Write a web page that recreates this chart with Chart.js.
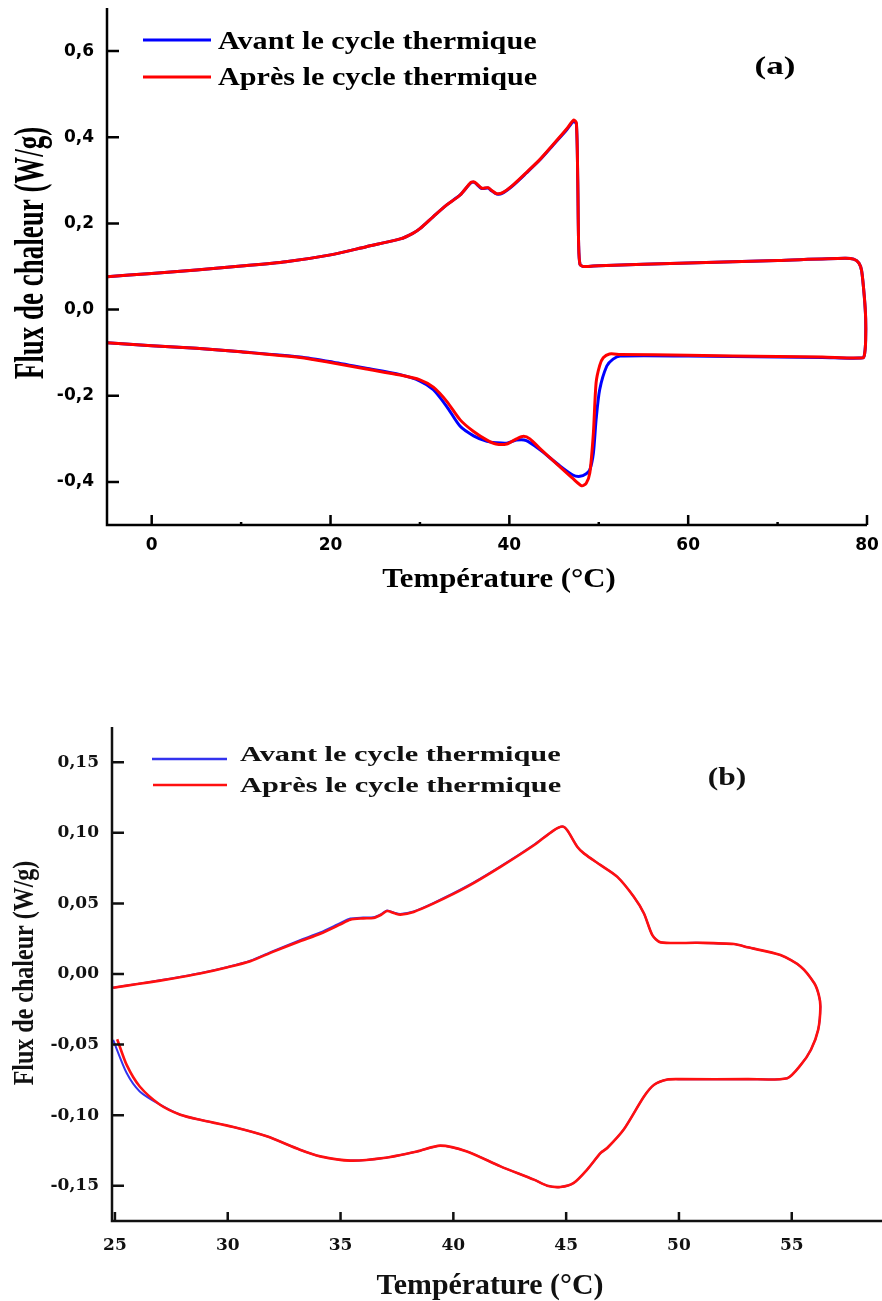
<!DOCTYPE html>
<html>
<head>
<meta charset="utf-8">
<script src="https://cdn.jsdelivr.net/npm/chart.js@4.4.1/dist/chart.umd.min.js"></script>
<style>
  html, body { margin: 0; padding: 0; background: #fff; }
  #page { position: relative; width: 882px; height: 1301px; overflow: hidden; }
  .panel { position: absolute; left: 0; width: 882px; }
  #pa { top: 0; height: 650px; }
  #pb { top: 650px; height: 651px; }
</style>
</head>
<body>
<div id="page">
  <div class="panel" id="pa"><canvas id="ca"></canvas></div>
  <div class="panel" id="pb"><canvas id="cb"></canvas></div>
</div>
<script>
// ---------- Panel (a): DSC loop, -5 to 80 °C ----------
const aTempAvant = [
  -5, 0, 5, 10, 15, 20, 24, 27.8, 29.2, 30,
  31.5, 33, 34.5, 35.7, 36.1, 36.9, 37.6, 38.0, 38.6, 39.3,
  40.4, 41.9, 43.4, 44.9, 46.4, 47.2, 47.5, 47.65, 47.75, 47.9,
  48.3, 50, 60, 70, 77.5, 78.5, 79.1, 79.4, 79.7, 79.85,
  79.85, 79.75, 79.55,
  75, 70, 60, 52.4, 51.6, 50.9, 50.1, 49.7, 49.4, 49.0,
  48.6, 47.9, 47.1, 45.6, 43.4, 41.9, 40.8, 39.7, 38.5, 37.5,
  36.0, 34.5, 33.0, 31.5, 30.0, 27.8, 24.0, 20.3, 16.6, 10,
  5, 0, -5
];
const aFluxAvant = [
  0.076, 0.084, 0.092, 0.101, 0.111, 0.127, 0.146, 0.164, 0.177, 0.188,
  0.216, 0.243, 0.266, 0.294, 0.295, 0.281, 0.282, 0.276, 0.268, 0.271,
  0.288, 0.317, 0.347, 0.382, 0.417, 0.437, 0.430, 0.300, 0.150, 0.105,
  0.100, 0.102, 0.108, 0.114, 0.119, 0.117, 0.108, 0.090, 0.030, -0.020,
  -0.070, -0.100, -0.112,
  -0.111, -0.110, -0.108, -0.108, -0.115, -0.131, -0.186, -0.256, -0.333, -0.372,
  -0.381, -0.387, -0.384, -0.362, -0.325, -0.304, -0.303, -0.310, -0.309, -0.306,
  -0.293, -0.271, -0.225, -0.186, -0.166, -0.151, -0.136, -0.122, -0.110, -0.098,
  -0.090, -0.084, -0.077
];
const aTempApres = [
  -5, 0, 5, 10, 15, 20, 24, 27.8, 29.2, 30,
  31.5, 33, 34.5, 35.7, 36.1, 36.9, 37.6, 38.0, 38.6, 39.3,
  40.4, 41.9, 43.4, 44.9, 46.4, 47.2, 47.5, 47.65, 47.75, 47.9,
  48.3, 50, 60, 70, 77.5, 78.5, 79.1, 79.4, 79.7, 79.85,
  79.85, 79.75, 79.55,
  75, 70, 60, 52.4, 51.2, 50.5, 50.1, 49.7, 49.4, 49.0,
  48.6, 48.1, 47.1, 45.6, 43.4, 42.3, 41.6, 40.8, 39.7, 38.5,
  37.5, 36.0, 34.5, 33.0, 31.5, 30.0, 27.8, 24.0, 20.3, 16.6,
  10, 5, 0, -5
];
const aFluxApres = [
  0.076, 0.084, 0.092, 0.101, 0.111, 0.127, 0.146, 0.164, 0.177, 0.188,
  0.216, 0.243, 0.266, 0.295, 0.296, 0.282, 0.283, 0.277, 0.269, 0.272,
  0.289, 0.318, 0.348, 0.383, 0.419, 0.440, 0.433, 0.300, 0.150, 0.105,
  0.100, 0.102, 0.108, 0.114, 0.119, 0.117, 0.108, 0.090, 0.030, -0.020,
  -0.070, -0.100, -0.112,
  -0.110, -0.109, -0.106, -0.104, -0.103, -0.112, -0.130, -0.170, -0.286, -0.379,
  -0.403, -0.409, -0.392, -0.364, -0.322, -0.300, -0.294, -0.300, -0.312, -0.312,
  -0.303, -0.283, -0.256, -0.213, -0.180, -0.163, -0.152, -0.138, -0.124, -0.111,
  -0.098, -0.090, -0.084, -0.077
];
const aTicksX = [0, 20, 40, 60, 80];
const aMinorX = [10, 30, 50, 70];
const aTicksY = [-0.4, -0.2, 0, 0.2, 0.4, 0.6];

// ---------- Panel (b): DSC loop, 25 to 56 °C ----------
const bTempAvant = [
  24.92, 26, 27, 28, 28.77, 30, 31, 32, 33.2, 34.1,
  35.0, 35.43, 36.0, 36.46, 36.8, 37.06, 37.4, 37.65, 38.24, 39.13,
  40.6, 42.09, 43.57, 44.45, 44.83, 45.05, 45.5, 45.8, 46.53, 47.27,
  48.0, 48.45, 48.82, 49.19, 50.82, 52.44, 53.04, 54.5, 55.4, 56.0,
  56.2, 56.27,
  56.17, 55.85, 55.4, 54.8, 53.04, 50.08, 49.49, 48.9, 48.45, 47.56,
  46.82, 46.53, 45.93, 45.34, 44.75, 44.16, 43.57, 42.09, 40.6, 39.42,
  38.39, 36.9, 35.43, 34.1, 33.2, 31.73, 30.25, 28.77, 27.9, 27.0,
  26.1, 25.52, 24.92
];
const bFluxAvant = [
  -0.0097, -0.0070, -0.0045, -0.0018, 0.0005, 0.0050, 0.0094, 0.0162, 0.0240, 0.0295,
  0.0362, 0.0393, 0.0400, 0.0402, 0.0424, 0.0450, 0.0433, 0.0425, 0.0443, 0.0504,
  0.0622, 0.0763, 0.0916, 0.1018, 0.1045, 0.1018, 0.0900, 0.0853, 0.0771, 0.0688,
  0.0547, 0.0429, 0.0276, 0.0224, 0.0221, 0.0212, 0.0189, 0.0134, 0.0052, -0.0066,
  -0.0150, -0.0231,
  -0.0396, -0.0537, -0.0644, -0.0738, -0.0745, -0.0745, -0.0748, -0.0785, -0.0868, -0.1100,
  -0.1233, -0.1268, -0.1386, -0.1480, -0.1509, -0.1500, -0.1457, -0.1363, -0.1257, -0.1216,
  -0.1257, -0.1304, -0.1322, -0.1292, -0.1245, -0.1150, -0.1084, -0.1033, -0.0997, -0.0926,
  -0.0832, -0.0702, -0.0467
];
const bTempApres = [
  24.92, 26, 27, 28, 28.77, 30, 31, 32, 33.2, 34.1,
  35.0, 35.43, 36.0, 36.46, 36.8, 37.06, 37.4, 37.65, 38.24, 39.13,
  40.6, 42.09, 43.57, 44.45, 44.83, 45.05, 45.5, 45.8, 46.53, 47.27,
  48.0, 48.45, 48.82, 49.19, 50.82, 52.44, 53.04, 54.5, 55.4, 56.0,
  56.2, 56.27,
  56.17, 55.85, 55.4, 54.8, 53.04, 50.08, 49.49, 48.9, 48.45, 47.56,
  46.82, 46.53, 45.93, 45.34, 44.75, 44.16, 43.57, 42.09, 40.6, 39.42,
  38.39, 36.9, 35.43, 34.1, 33.2, 31.73, 30.25, 28.77, 27.9, 27.0,
  26.1, 25.52, 25.1
];
const bFluxApres = [
  -0.0097, -0.0071, -0.0047, -0.0020, 0.0003, 0.0048, 0.0091, 0.0157, 0.0232, 0.0285,
  0.0352, 0.0385, 0.0394, 0.0397, 0.0420, 0.0446, 0.0430, 0.0421, 0.0440, 0.0500,
  0.0617, 0.0759, 0.0912, 0.1018, 0.1045, 0.1018, 0.0900, 0.0853, 0.0771, 0.0688,
  0.0547, 0.0429, 0.0276, 0.0224, 0.0221, 0.0212, 0.0189, 0.0134, 0.0052, -0.0066,
  -0.0150, -0.0231,
  -0.0396, -0.0537, -0.0644, -0.0738, -0.0745, -0.0745, -0.0748, -0.0785, -0.0868, -0.1100,
  -0.1233, -0.1268, -0.1386, -0.1480, -0.1509, -0.1500, -0.1457, -0.1363, -0.1257, -0.1216,
  -0.1257, -0.1304, -0.1322, -0.1292, -0.1245, -0.1150, -0.1084, -0.1033, -0.0997, -0.0926,
  -0.0797, -0.0644, -0.0462
];
const bTicksX = [25, 30, 35, 40, 45, 50, 55];
const bTicksY = [-0.15, -0.10, -0.05, 0, 0.05, 0.10, 0.15];

const seriesLabels = ['Avant le cycle thermique', 'Après le cycle thermique'];
const xTitle = 'Température (°C)';
const yTitle = 'Flux de chaleur (W/g)';

const toPoints = (xs, ys) => xs.map((x, i) => ({ x, y: ys[i] }));

// Draws a text string with an optional horizontal stretch and rotation.
function drawText(ctx, t) {
  ctx.save();
  ctx.translate(t.x, t.y);
  ctx.scale(t.sx || 1, 1);
  if (t.rot) ctx.rotate(-Math.PI / 2);
  ctx.font = t.font;
  ctx.fillStyle = t.color || '#000';
  ctx.textAlign = t.align || 'left';
  ctx.textBaseline = 'alphabetic';
  ctx.fillText(t.text, 0, 0);
  ctx.restore();
}

// Axis lines, inward tick marks, the in-plot legend and free text.
const decor = {
  id: 'decor',
  afterDatasetsDraw(chart, args, o) {
    const { ctx, chartArea: a, scales } = chart;
    const xs = scales.x, ys = scales.y;
    ctx.save();
    ctx.strokeStyle = o.axisColor;
    ctx.lineWidth = o.axisWidth;
    ctx.lineCap = 'butt';
    ctx.beginPath();
    ctx.moveTo(a.left, a.top);
    ctx.lineTo(a.left, a.bottom + o.axisWidth / 2);
    ctx.moveTo(a.left - o.axisWidth / 2, a.bottom);
    ctx.lineTo(a.right, a.bottom);
    ctx.stroke();

    ctx.beginPath();
    xs.ticks.forEach(t => {
      const px = xs.getPixelForValue(t.value);
      ctx.moveTo(px, a.bottom);
      ctx.lineTo(px, a.bottom - o.xTickLen);
    });
    ys.ticks.forEach(t => {
      const py = ys.getPixelForValue(t.value);
      ctx.moveTo(a.left, py);
      ctx.lineTo(a.left + o.yTickLen, py);
    });
    (o.minorX || []).forEach(v => {
      const px = xs.getPixelForValue(v);
      ctx.moveTo(px, a.bottom);
      ctx.lineTo(px, a.bottom - o.minorLen);
    });
    ctx.stroke();

    const lg = o.legend;
    chart.data.datasets.forEach((ds, i) => {
      const r = lg.rows[i];
      ctx.strokeStyle = ds.borderColor;
      ctx.lineWidth = lg.lineWidth;
      ctx.beginPath();
      ctx.moveTo(r.x0, r.ly);
      ctx.lineTo(r.x1, r.ly);
      ctx.stroke();
      drawText(ctx, { text: ds.label, x: lg.textX, y: r.ty, font: lg.font, sx: lg.sx, color: lg.color });
    });

    o.texts.forEach(t => drawText(ctx, t));
    ctx.restore();
  }
};

function makeChart(id, cfg) {
  return new Chart(document.getElementById(id), {
    type: 'scatter',
    data: {
      datasets: cfg.series.map(s => ({
        label: s.label,
        data: toPoints(s.xs, s.ys),
        borderColor: s.color,
        backgroundColor: s.color,
        borderWidth: s.width,
        pointRadius: 0,
        pointHoverRadius: 0,
        showLine: true,
        tension: 0.25,
        fill: false,
        order: s.order,
        clip: false
      }))
    },
    options: {
      responsive: true,
      maintainAspectRatio: false,
      animation: false,
      events: [],
      layout: { padding: cfg.padding },
      plugins: {
        legend: { display: false },
        tooltip: { enabled: false },
        decor: cfg.decor
      },
      scales: {
        x: {
          type: 'linear',
          min: cfg.xMin, max: cfg.xMax,
          afterBuildTicks: s => { s.ticks = cfg.xTicks.map(v => ({ value: v })); },
          afterFit: s => { s.height = cfg.xHeight; s.paddingLeft = 0; s.paddingRight = 0; },
          grid: { display: false, drawTicks: false },
          border: { display: false },
          ticks: {
            autoSkip: false, maxRotation: 0, minRotation: 0,
            padding: cfg.xPad,
            color: cfg.tickColor,
            font: cfg.tickFont,
            callback: v => String(v)
          }
        },
        y: {
          type: 'linear',
          min: cfg.yMin, max: cfg.yMax,
          afterBuildTicks: s => { s.ticks = cfg.yTicks.map(v => ({ value: v })); },
          afterFit: s => { s.width = cfg.yWidth; s.paddingTop = 0; s.paddingBottom = 0; },
          grid: { display: false, drawTicks: false },
          border: { display: false },
          ticks: {
            autoSkip: false,
            padding: cfg.yPad,
            color: cfg.tickColor,
            font: cfg.tickFont,
            callback: v => v.toFixed(cfg.yDec).replace('.', ',')
          }
        }
      }
    },
    plugins: [decor]
  });
}

const serifBold = px => 'bold ' + px + 'px "Liberation Serif", "Times New Roman", serif';

makeChart('ca', {
  series: [
    { label: seriesLabels[0], xs: aTempAvant, ys: aFluxAvant, color: '#0000ff', width: 3, order: 2 },
    { label: seriesLabels[1], xs: aTempApres, ys: aFluxApres, color: '#ff0000', width: 3, order: 1 }
  ],
  xMin: -5, xMax: 80, yMin: -0.5, yMax: 0.7,
  xTicks: aTicksX, yTicks: aTicksY, yDec: 1,
  padding: { left: 0, right: 15, top: 8, bottom: 0 },
  xHeight: 125, yWidth: 107, xPad: 10, yPad: 13,
  tickColor: '#000',
  tickFont: { family: '"DejaVu Sans", Verdana, sans-serif', size: 17, weight: 'bold' },
  decor: {
    axisColor: '#000', axisWidth: 2.5, xTickLen: 10, yTickLen: 12, minorLen: 3, minorX: aMinorX,
    legend: {
      font: serifBold(26), sx: 1.16, textX: 218, lineWidth: 3, color: '#000',
      rows: [ { x0: 143, x1: 211, ly: 40, ty: 49 }, { x0: 143, x1: 211, ly: 77, ty: 85 } ]
    },
    texts: [
      { text: '(a)', x: 775, y: 74, font: serifBold(26), sx: 1.35, align: 'center' },
      { text: xTitle, x: 499, y: 587, font: serifBold(27), sx: 1.14, align: 'center' },
      { text: yTitle, x: 43, y: 253, font: serifBold(27), sx: 1.6, align: 'center', rot: true }
    ]
  }
});

makeChart('cb', {
  series: [
    { label: seriesLabels[0], xs: bTempAvant, ys: bFluxAvant, color: '#3333ee', width: 2, order: 2 },
    { label: seriesLabels[1], xs: bTempApres, ys: bFluxApres, color: '#ff1010', width: 2.6, order: 1 }
  ],
  xMin: 24.87, xMax: 59, yMin: -0.175, yMax: 0.175,
  xTicks: bTicksX, yTicks: bTicksY, yDec: 2,
  padding: { left: 0, right: 0, top: 77, bottom: 0 },
  xHeight: 80, yWidth: 112, xPad: 14, yPad: 13,
  tickColor: '#111',
  tickFont: { family: '"DejaVu Serif", serif', size: 17, weight: 'bold' },
  decor: {
    axisColor: '#111', axisWidth: 2.5, xTickLen: 9, yTickLen: 12, minorLen: 0, minorX: [],
    legend: {
      font: serifBold(22), sx: 1.38, textX: 240, lineWidth: 2.5, color: '#111',
      rows: [ { x0: 152, x1: 227, ly: 109, ty: 111 }, { x0: 153, x1: 227, ly: 135, ty: 142 } ]
    },
    texts: [
      { text: '(b)', x: 727, y: 135, font: serifBold(25), sx: 1.26, align: 'center', color: '#111' },
      { text: xTitle, x: 490, y: 644, font: serifBold(29), sx: 1.03, align: 'center', color: '#111' },
      { text: yTitle, x: 33, y: 323, font: serifBold(24), sx: 1.25, align: 'center', rot: true, color: '#111' }
    ]
  }
});
</script>
</body>
</html>
